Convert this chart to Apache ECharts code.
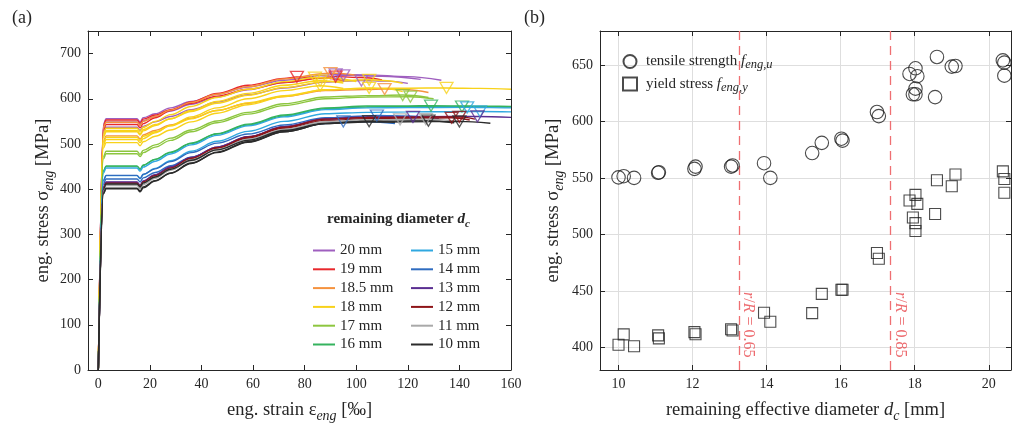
<!DOCTYPE html>
<html>
<head>
<meta charset="utf-8">
<script src="https://cdn.jsdelivr.net/npm/echarts@6/dist/echarts.min.js"></script>
<style>
  html, body { margin: 0; padding: 0; background: #fff; }
  #chart { width: 1014px; height: 428px; }
</style>
</head>
<body>
<div id="chart"></div>
<script>
// ---------- (a) stress-strain curves, grouped by nominal remaining diameter ----------
const groupNames = ['20 mm', '19 mm', '18.5 mm', '18 mm', '17 mm', '16 mm',
                    '15 mm', '14 mm', '13 mm', '12 mm', '11 mm', '10 mm'];
const groupColors = ['#9f5fbf', '#e8282c', '#f5923e', '#f8d21a', '#8dc63f', '#35b35e',
                     '#30a8e0', '#2f6cc0', '#5a2e91', '#8e1418', '#a9a9a9', '#2b2b2b'];

// each curve: [strain ‰, stress MPa]
const curves20 = [
  [[0,0],[2,544],[3,556],[15,556],[16.2,549],[17.4,558],[22,567],[28,580],[36,594],[46,610],[58,626],[72,641],[88,652],[92,654],[104,653],[120,649],[133,641]],
  [[0,0],[2,537],[3,549],[15,549],[16.2,542],[17.4,551],[22,561],[28,573],[36,588],[46,604],[58,620],[72,636],[88,648],[95,652],[110,650],[125,643]],
  [[0,0],[2,525],[3,537],[15,537],[16.2,530],[17.4,539],[22,549],[28,561],[36,576],[46,593],[58,609],[72,624],[88,637],[102,640.5],[112,639],[120,634]]
];
const curves19 = [
  [[0,0],[2,531],[3,543],[15,543],[16.2,536],[17.4,545],[22,558],[28,574],[36,593],[46,612],[58,630],[72,645],[77,648.5],[88,646],[95,640]],
  [[0,0],[2,541],[3,553],[15,553],[16.2,546],[17.4,555],[22,564],[28,576],[36,590],[46,606],[58,621],[72,636],[88,647],[92,649],[102,647],[110,642]]
];
const curves185 = [
  [[0,0],[2,536],[3,548],[15,548],[16.2,541],[17.4,550],[22,561],[28,575],[36,592],[46,610],[58,627],[72,644],[88,656],[90,657],[100,652]],
  [[0,0],[2,506],[3,518],[15,518],[16.2,511],[17.4,520],[22,530],[28,542],[36,557],[46,574],[58,590],[72,605],[88,618],[104,620.5],[111,621.5],[120,620],[128,614]]
];
const curves18 = [
  [[0,0],[2,523],[3,535],[15,535],[16.2,528],[17.4,537],[22,550],[28,565],[36,583],[46,603],[58,621],[72,638],[84,647],[92,645],[100,638]],
  [[0,0],[2,518],[3,530],[15,530],[16.2,523],[17.4,532],[22,543],[28,556],[36,572],[46,590],[58,608],[72,625],[88,638],[105,642],[112,640],[118,634]],
  [[0,0],[2,515],[3,527],[15,527],[16.2,520],[17.4,529],[22,541],[28,556],[36,574],[46,594],[58,612],[72,630],[86,640],[95,635]],
  [[0,0],[2,498],[3,510],[15,510],[16.2,503],[17.4,512],[22,525],[28,541],[36,560],[46,580],[58,600],[72,618],[86,629],[95,623]],
  [[0,0],[2,503],[3,515],[15,515],[16.2,508],[17.4,517],[22,527],[28,540],[36,556],[46,574],[58,591],[72,607],[88,620],[105,624],[112,622],[118,616]],
  [[0,0],[2,491],[3,503],[15,503],[16.2,496],[17.4,505],[22,517],[28,531],[36,549],[46,568],[58,587],[72,605],[88,620],[104,623],[120,623.5],[135,624],[148,623],[160,621]]
];
const curves17 = [
  [[0,0],[2,472],[3,484],[15,484],[16.2,477],[17.4,486],[22,498],[28,513],[36,531],[46,551],[58,570],[72,589],[88,604],[104,607],[118,608.3],[128,603]],
  [[0,0],[2,467],[3,478.5],[15,478.5],[16.2,472],[17.4,481],[22,493],[28,508],[36,527],[46,547],[58,566],[72,585],[88,600],[104,604],[121,604.7],[130,600]]
];
const curves16 = [
  [[0,0],[2,440],[3,451],[15,451],[16.2,444],[17.4,453],[22,466],[28,482],[36,502],[46,523],[58,544],[72,564],[88,580],[104,584],[120,584.3],[129,584.7],[145,584],[160,583]],
  [[0,0],[2,440],[3,451],[15,451],[16.2,444],[17.4,453],[22,466],[28,481],[36,501],[46,522],[58,542],[72,562],[88,578],[104,582],[120,582.5],[141,583],[152,582.5],[160,582]]
];
const curves15 = [
  [[0,0],[2,436],[3,447],[15,447],[16.2,440],[17.4,449],[22,462],[28,478],[36,498],[46,519],[58,540],[72,560],[88,576],[104,580],[120,580.5],[143,581],[152,580.5],[160,580]],
  [[0,0],[2,419],[3,430],[15,430],[16.2,423],[17.4,432],[22,446],[28,463],[36,484],[46,506],[58,528],[72,550],[88,567],[104,570],[120,571],[136,571.5],[148,572],[160,571]]
];
const curves14 = [
  [[0,0],[2,419],[3,430.6],[15,430.6],[16.2,424],[17.4,433],[22,445],[28,461],[36,481],[46,502],[58,522],[72,542],[88,558],[104,562],[108,563],[120,562],[130,558]],
  [[0,0],[2,411],[3,422.7],[15,422.7],[16.2,416],[17.4,425],[22,437],[28,452],[36,471],[46,491],[58,511],[72,530],[88,545],[95,550],[105,549],[115,545]]
];
const curves13 = [
  [[0,0],[2,404],[3,416],[15,416],[16.2,409],[17.4,418],[22,432],[28,449],[36,470],[46,493],[58,516],[72,538],[88,555],[104,559],[122,560],[132,556]],
  [[0,0],[2,403],[3,415],[15,415],[16.2,408],[17.4,417],[22,431],[28,449],[36,470],[46,493],[58,516],[72,538],[88,556],[104,560],[120,560.5],[136,560.8],[147,561],[160,559]]
];
const curves12 = [
  [[0,0],[2,402],[3,413.5],[15,413.5],[16.2,407],[17.4,416],[22,430],[28,446],[36,468],[46,491],[58,513],[72,535],[88,552],[104,556],[120,557],[137,558],[144,553]],
  [[0,0],[2,400],[3,411.7],[15,411.7],[16.2,405],[17.4,414],[22,428],[28,446],[36,468],[46,491],[58,515],[72,537],[88,555],[104,558.5],[120,559.3],[140,560],[146,555]]
];
const curves11 = [
  [[0,0],[2,399],[3,410.6],[15,410.6],[16.2,404],[17.4,413],[22,427],[28,444],[36,465],[46,488],[58,510],[72,532],[88,549],[104,553],[117,554.5],[125,551]],
  [[0,0],[2,397],[3,408],[15,408],[16.2,401],[17.4,410],[22,424],[28,442],[36,463],[46,487],[58,510],[72,532],[88,550],[104,553.5],[120,554.5],[127,555],[140,550]]
];
const curves10 = [
  [[0,0],[2,391],[3,402.4],[15,402.4],[16.2,396],[17.4,405],[22,419],[28,436],[36,458],[46,482],[58,505],[72,527],[88,545],[105,550.5],[115,548]],
  [[0,0],[2,400],[3,411.5],[15,411.5],[16.2,405],[17.4,414],[22,427],[28,444],[36,464],[46,487],[58,508],[72,530],[88,546],[104,550],[120,551],[128,551.5],[138,547]],
  [[0,0],[2,390],[3,401],[15,401],[16.2,394],[17.4,403],[22,418],[28,435],[36,457],[46,481],[58,504],[72,527],[88,545],[104,548.5],[120,549],[140,550],[152,546]]
];
const groupCurves = [curves20, curves19, curves185, curves18, curves17, curves16,
                     curves15, curves14, curves13, curves12, curves11, curves10];

// ---------- (b) strength vs. remaining effective diameter ----------
const dEff   = [20.38, 20.42, 20.42, 19.0, 19.1, 18.6, 18.55, 18.02, 17.86, 18.07, 18.02, 17.95, 18.02,
                16.98, 17.03, 16.02, 16.05, 15.49, 15.23, 13.93, 14.1, 13.04, 13.08, 12.05, 12.08,
                11.07, 11.09, 10.0, 10.14, 10.42];
const fuEng  = [654, 652, 640.5, 648.5, 649, 657, 621.5, 647, 642, 640, 629, 624, 624,
                608.3, 604.7, 584.7, 583, 581, 572, 563, 550, 560, 561, 558, 560,
                554.5, 555, 550.5, 551.5, 550];
const fyEng  = [555.8, 549, 536.8, 542.6, 553, 547.9, 518, 535, 530, 527, 510, 515, 503,
                483.6, 478.5, 451, 451, 447.4, 430.3, 430.6, 422.7, 416, 415, 413.5, 411.7,
                410.6, 408, 402.4, 411.5, 401];
const ratioLineAt = [13.27, 17.34];
const ratioLabels = ['0.65', '0.85'];
const ratioLabelPos = [[13.5, 420], [17.62, 420]];

// axis ticks
const strainTicks   = [0, 20, 40, 60, 80, 100, 120, 140, 160];
const stressTicks   = [0, 100, 200, 300, 400, 500, 600, 700];
const diamTicks     = [10, 12, 14, 16, 18, 20];
const strengthTicks = [400, 450, 500, 550, 600, 650];

// ---------- styling ----------
const FONT = 'Liberation Serif, Times New Roman, serif';
const INK = '#262626';

const nameRich = {
  n: { fontFamily: FONT, fontSize: 18.5, color: INK, lineHeight: 26 },
  s: { fontFamily: FONT, fontSize: 14, color: INK, fontStyle: 'italic', lineHeight: 14, verticalAlign: 'bottom' },
  i: { fontFamily: FONT, fontSize: 18.5, color: INK, fontStyle: 'italic', lineHeight: 26 }
};

function frameAxis(gridIndex, position, min, max, ticks) {
  return {
    type: 'value', gridIndex, position, min, max,
    axisLine: { show: true, onZero: false, lineStyle: { color: INK, width: 1 } },
    axisTick: { show: true, inside: true, length: 5, customValues: ticks, lineStyle: { color: INK } },
    axisLabel: { show: false },
    splitLine: { show: false }
  };
}

function mainAxis(gridIndex, position, min, max, ticks, grid, name, nameGap) {
  return {
    type: 'value', gridIndex, position, min, max,
    name, nameLocation: 'middle', nameGap,
    nameTextStyle: { rich: nameRich, fontFamily: FONT, fontSize: 18.5, color: INK },
    axisLine: { show: true, onZero: false, lineStyle: { color: INK, width: 1 } },
    axisTick: { show: true, inside: true, length: 5, customValues: ticks, lineStyle: { color: INK } },
    axisLabel: { show: true, customValues: ticks, fontFamily: FONT, fontSize: 14, color: INK, margin: 7 },
    splitLine: { show: grid, lineStyle: { color: '#dedede', width: 1 } }
  };
}

const series = [];
groupCurves.forEach((list, g) => {
  list.forEach(curve => {
    series.push({
      type: 'line', name: groupNames[g], xAxisIndex: 0, yAxisIndex: 0,
      data: curve, showSymbol: false, symbol: 'none',
      smooth: 0.35, smoothMonotone: 'x',
      lineStyle: { color: groupColors[g], width: 1.4 },
      itemStyle: { color: groupColors[g] },
      z: 2 + g
    });
  });
  // tensile strength of every specimen, marked at its curve maximum
  const peaks = list.map(c => c.reduce((a, b) => (b[1] > a[1] ? b : a)));
  series.push({
    type: 'scatter', name: groupNames[g] + ' fu', xAxisIndex: 0, yAxisIndex: 0,
    data: peaks, symbol: 'triangle', symbolRotate: 180, symbolSize: [13, 11],
    itemStyle: { color: 'rgba(0,0,0,0)', borderColor: groupColors[g], borderWidth: 1.3 },
    z: 20
  });
});

series.push({
  type: 'scatter', name: 'tensile strength', xAxisIndex: 2, yAxisIndex: 2,
  data: dEff.map((d, i) => [d, fuEng[i]]),
  symbol: 'circle', symbolSize: 13.5,
  itemStyle: { color: 'rgba(0,0,0,0)', borderColor: '#1e1e1e', borderWidth: 1.1 },
  z: 10
});
series.push({
  type: 'scatter', name: 'yield stress', xAxisIndex: 2, yAxisIndex: 2,
  data: dEff.map((d, i) => [d, fyEng[i]]),
  symbol: 'rect', symbolSize: 11,
  itemStyle: { color: 'rgba(0,0,0,0)', borderColor: '#1e1e1e', borderWidth: 1.1 },
  z: 10
});
// r/R limits: dashed lines with rotated labels
series.push({
  type: 'scatter', name: 'r/R', xAxisIndex: 2, yAxisIndex: 2,
  data: ratioLabelPos,
  symbolSize: 0, silent: true,
  label: {
    show: true, position: 'inside', rotate: -90,
    formatter: p => '{i|r}{n|/}{i|R}{n| = ' + ratioLabels[p.dataIndex] + '}',
    rich: {
      n: { fontFamily: FONT, fontSize: 16, color: '#e8474c' },
      i: { fontFamily: FONT, fontSize: 16, color: '#e8474c', fontStyle: 'italic' }
    }
  },
  markLine: {
    silent: true, symbol: ['none', 'none'],
    label: { show: false },
    lineStyle: { color: '#ef6f72', type: [9, 6], width: 1.3 },
    data: ratioLineAt.map(v => ({ xAxis: v }))
  },
  z: 5
});

const legendText = { fontFamily: FONT, fontSize: 15, color: INK, lineHeight: 17 };

const option = {
  animation: false,
  backgroundColor: '#fff',
  title: [
    { text: '(a)', left: 7, top: 4, textStyle: { fontFamily: FONT, fontSize: 18, fontWeight: 'normal', color: INK } },
    { text: '(b)', left: 519, top: 4, textStyle: { fontFamily: FONT, fontSize: 18, fontWeight: 'normal', color: INK } },
    {
      text: '{b|remaining diameter }{bi|d}{bs|c}', left: 322, top: 203,
      textStyle: {
        rich: {
          b: { fontFamily: FONT, fontSize: 15, fontWeight: 'bold', color: INK, lineHeight: 22 },
          bi: { fontFamily: FONT, fontSize: 15, fontWeight: 'bold', fontStyle: 'italic', color: INK, lineHeight: 22 },
          bs: { fontFamily: FONT, fontSize: 11, fontWeight: 'bold', fontStyle: 'italic', color: INK, lineHeight: 11, verticalAlign: 'bottom' }
        }
      }
    }
  ],
  legend: [
    {
      data: groupNames.slice(0, 6), left: 308, top: 237, orient: 'vertical',
      icon: 'rect', itemWidth: 22, itemHeight: 2, itemGap: 1.8,
      textStyle: legendText, selectedMode: false
    },
    {
      data: groupNames.slice(6), left: 406, top: 237, orient: 'vertical',
      icon: 'rect', itemWidth: 22, itemHeight: 2, itemGap: 1.8,
      textStyle: legendText, selectedMode: false
    },
    {
      data: ['tensile strength', 'yield stress'], left: 617, top: 49, orient: 'vertical',
      itemWidth: 14, itemHeight: 13, itemGap: 5, selectedMode: false,
      formatter: name => name === 'tensile strength'
        ? '{t|tensile strength }{i|f}{s|eng,u}'
        : '{t|yield stress }{i|f}{s|eng,y}',
      textStyle: {
        rich: {
          t: { fontFamily: FONT, fontSize: 15, color: INK, lineHeight: 20, padding: [0, 0, 0, 4] },
          i: { fontFamily: FONT, fontSize: 15, color: INK, fontStyle: 'italic', lineHeight: 20 },
          s: { fontFamily: FONT, fontSize: 12.5, color: INK, fontStyle: 'italic', lineHeight: 12, verticalAlign: 'bottom' }
        }
      }
    }
  ],
  grid: [
    { left: 88, top: 31, width: 423, height: 339 },
    { left: 600, top: 31, width: 411, height: 339 }
  ],
  xAxis: [
    mainAxis(0, 'bottom', -4, 160, strainTicks, false, '{n|eng. strain ε}{s|eng}{n| [‰]}', 27),
    frameAxis(0, 'top', -4, 160, strainTicks),
    mainAxis(1, 'bottom', 9.5, 20.6, diamTicks, true, '{n|remaining effective diameter }{i|d}{s|c}{n| [mm]}', 27),
    frameAxis(1, 'top', 9.5, 20.6, diamTicks)
  ],
  yAxis: [
    mainAxis(0, 'left', 0, 750, stressTicks, false, '{n|eng. stress σ}{s|eng}{n| [MPa]}', 28),
    frameAxis(0, 'right', 0, 750, stressTicks),
    mainAxis(1, 'left', 380, 680, strengthTicks, true, '{n|eng. stress σ}{s|eng}{n| [MPa]}', 34),
    frameAxis(1, 'right', 380, 680, strengthTicks)
  ],
  series
};

const chart = echarts.init(document.getElementById('chart'), null, { renderer: 'canvas' });
chart.setOption(option);
</script>
</body>
</html>
